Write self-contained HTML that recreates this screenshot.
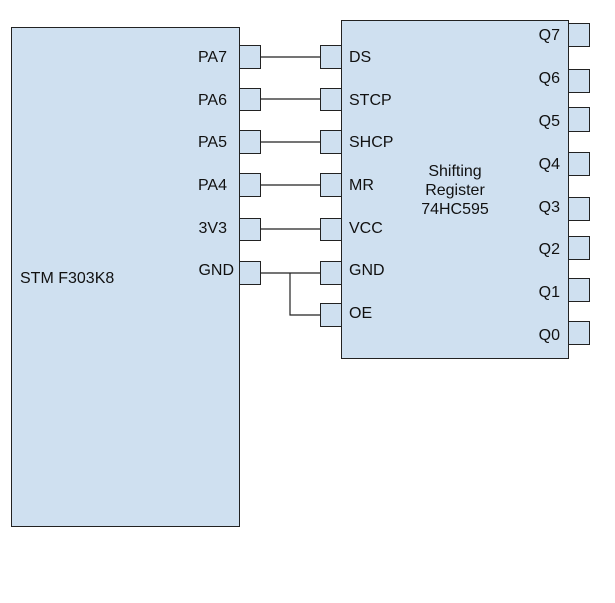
<!DOCTYPE html>
<html><head><style>
body{margin:0;background:#fff;width:615px;height:598px;overflow:hidden}
svg text{font-family:"Liberation Sans",sans-serif;font-size:16px;fill:#111}
</style></head><body>
<svg width="615" height="598" xmlns="http://www.w3.org/2000/svg">
<g fill="#cfe0f0" stroke="#222" stroke-width="1">
<rect x="11.5" y="27.5" width="228" height="499"/>
<rect x="341.5" y="20.5" width="227" height="338"/>
<rect x="239.5" y="45.5" width="21" height="23"/>
<rect x="239.5" y="88.5" width="21" height="22"/>
<rect x="239.5" y="130.5" width="21" height="23"/>
<rect x="239.5" y="173.5" width="21" height="23"/>
<rect x="239.5" y="218.5" width="21" height="22"/>
<rect x="239.5" y="261.5" width="21" height="23"/>
<rect x="320.5" y="45.5" width="21" height="23"/>
<rect x="320.5" y="88.5" width="21" height="22"/>
<rect x="320.5" y="130.5" width="21" height="23"/>
<rect x="320.5" y="173.5" width="21" height="23"/>
<rect x="320.5" y="218.5" width="21" height="22"/>
<rect x="320.5" y="261.5" width="21" height="23"/>
<rect x="320.5" y="303.5" width="21" height="23"/>
<rect x="568.5" y="23.5" width="21" height="23"/>
<rect x="568.5" y="69.5" width="21" height="23"/>
<rect x="568.5" y="107.5" width="21" height="24"/>
<rect x="568.5" y="152.5" width="21" height="23"/>
<rect x="568.5" y="197.5" width="21" height="23"/>
<rect x="568.5" y="236.5" width="21" height="23"/>
<rect x="568.5" y="278.5" width="21" height="23"/>
<rect x="568.5" y="321.5" width="21" height="23"/>
</g>
<g stroke="#222" stroke-width="1.2" fill="none">
<line x1="261" y1="57" x2="320" y2="57"/>
<line x1="261" y1="99" x2="320" y2="99"/>
<line x1="261" y1="142" x2="320" y2="142"/>
<line x1="261" y1="185" x2="320" y2="185"/>
<line x1="261" y1="229" x2="320" y2="229"/>
<line x1="261" y1="273" x2="320" y2="273"/>
<polyline points="290,273 290,315 320,315"/>
</g>
<g text-anchor="end">
<text x="227" y="62">PA7</text>
<text x="227" y="105">PA6</text>
<text x="227" y="147">PA5</text>
<text x="227" y="190">PA4</text>
<text x="227" y="233">3V3</text>
<text x="234" y="275">GND</text>
<text x="560" y="40">Q7</text>
<text x="560" y="83">Q6</text>
<text x="560" y="126">Q5</text>
<text x="560" y="169">Q4</text>
<text x="560" y="212">Q3</text>
<text x="560" y="254">Q2</text>
<text x="560" y="297">Q1</text>
<text x="560" y="340">Q0</text>
</g>
<text x="349" y="62">DS</text>
<text x="349" y="105">STCP</text>
<text x="349" y="147">SHCP</text>
<text x="349" y="190">MR</text>
<text x="349" y="233">VCC</text>
<text x="349" y="275">GND</text>
<text x="349" y="318">OE</text>
<text x="20" y="283">STM F303K8</text>
<g text-anchor="middle" style="font-size:15px">
<text x="455" y="176">Shifting</text>
<text x="455" y="195">Register</text>
<text x="455" y="214">74HC595</text>
</g>
</svg>
</body></html>
